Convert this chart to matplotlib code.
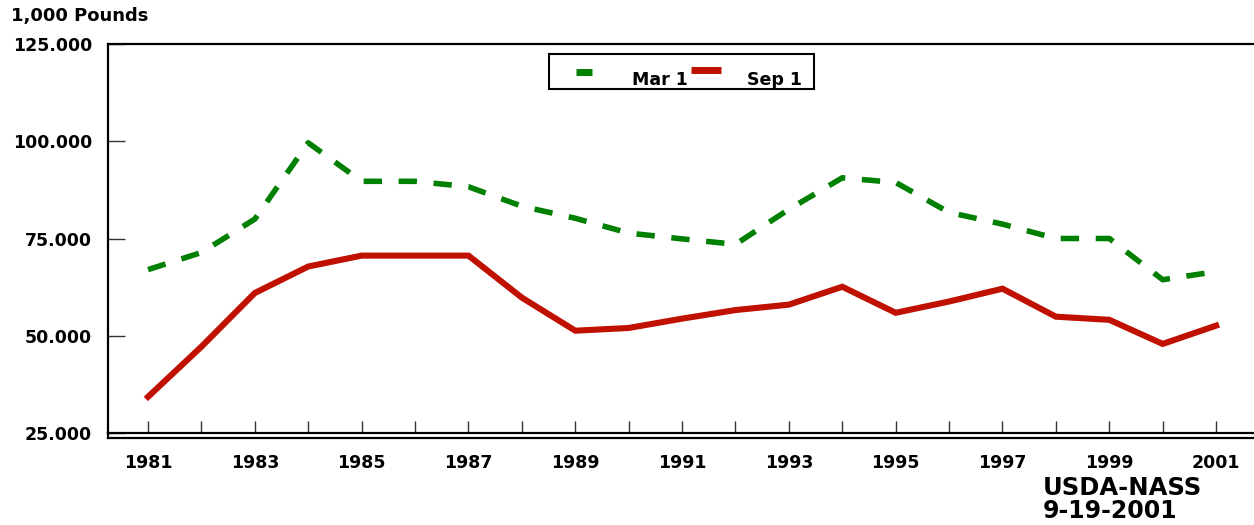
import matplotlib
matplotlib.use("Agg")
import matplotlib.pyplot as plt
from matplotlib.lines import Line2D
from matplotlib.patches import Rectangle

years = list(range(1981, 2002))
mar1 = [67.0, 71.4, 80.0, 99.6, 89.7, 89.7, 88.3, 83.3, 80.2, 76.4, 74.9, 73.5,
        82.5, 90.6, 89.4, 81.7, 78.7, 75.0, 75.0, 64.4, 66.5]
sep1 = [34.3, 47.2, 61.0, 67.8, 70.6, 70.6, 70.6, 59.8, 51.3, 52.0, 54.4, 56.6,
        58.0, 62.6, 55.9, 58.8, 62.1, 54.9, 54.1, 47.9, 52.6]
series_labels = ["Mar 1", "Sep 1"]
ytick_vals = [25, 50, 75, 100, 125]
ytick_labels = ["25.000", "50.000", "75.000", "100.000", "125.000"]

plt.rcParams['font.family'] = ['DejaVu Sans']
plt.rcParams['font.weight'] = 'bold'

W, H = 1254, 525
fig = plt.figure(figsize=(W/100, H/100), dpi=100)
ax = fig.add_axes([108/W, 1-433/H, 1146/W, 389/H])

def fx(x):
    return x / W

def fy(y):
    return 1 - y / H

green = '#008000'
red = '#C01000'
ax.plot(years, mar1, color=green, lw=4.0, linestyle=(0, (3.3, 3.0)),
        dash_capstyle='butt', label=series_labels[0])
ax.plot(years, sep1, color=red, lw=4.4, solid_joinstyle='miter',
        label=series_labels[1])

ax.set_xlim(1980.25, 2001.71)
ax.set_ylim(25, 125)

ax.set_xticks(years)
ax.set_xticklabels([str(y) if (y - 1981) % 2 == 0 else "" for y in years])
ax.set_yticks(ytick_vals)
ax.set_yticklabels(ytick_labels)

ax.tick_params(axis='x', direction='in', length=9, width=1, color='#333333',
               pad=15, labelsize=12.5)
ax.tick_params(axis='y', direction='in', length=12.5, width=1, color='#333333',
               pad=11.5, labelsize=12.5)
for lab in ax.get_xticklabels() + ax.get_yticklabels():
    lab.set_fontweight('bold')

ax.spines['right'].set_visible(False)
for s in ['left', 'top', 'bottom']:
    ax.spines[s].set_linewidth(1.6)
    ax.spines[s].set_color('black')

# double bottom border
ax.add_line(Line2D([0, 1], [-4.5/389, -4.5/389], transform=ax.transAxes,
                   color='black', lw=1.6, clip_on=False))
ax.add_line(Line2D([0, 0], [0, -4.5/389], transform=ax.transAxes,
                   color='black', lw=1.6, clip_on=False))

# legend (drawn as in the original layout)
fig.add_artist(Rectangle((fx(549), fy(89)), fx(814) - fx(549), fy(54) - fy(89),
                         transform=fig.transFigure, fill=False,
                         edgecolor='black', lw=1.5))
fig.add_artist(Line2D([fx(576), fx(592)], [fy(71.5), fy(71.5)],
                      transform=fig.transFigure, color=green, lw=5,
                      solid_capstyle='butt'))
fig.add_artist(Line2D([fx(691), fx(721)], [fy(70), fy(70)],
                      transform=fig.transFigure, color=red, lw=5,
                      solid_capstyle='butt'))
fig.text(fx(632), fy(85), series_labels[0], fontsize=12.5, fontweight='bold',
         ha='left', va='baseline')
fig.text(fx(747), fy(85), series_labels[1], fontsize=12.5, fontweight='bold',
         ha='left', va='baseline')

fig.text(fx(11), fy(16), "1,000 Pounds", fontsize=13, fontweight='bold',
         va='center', ha='left')
fig.text(fx(1043), fy(488), "USDA-NASS", fontsize=17.5, fontweight='bold',
         va='center', ha='left')
fig.text(fx(1043), fy(511), "9-19-2001", fontsize=17, fontweight='bold',
         va='center', ha='left')

fig.savefig("out.png", dpi=100)
